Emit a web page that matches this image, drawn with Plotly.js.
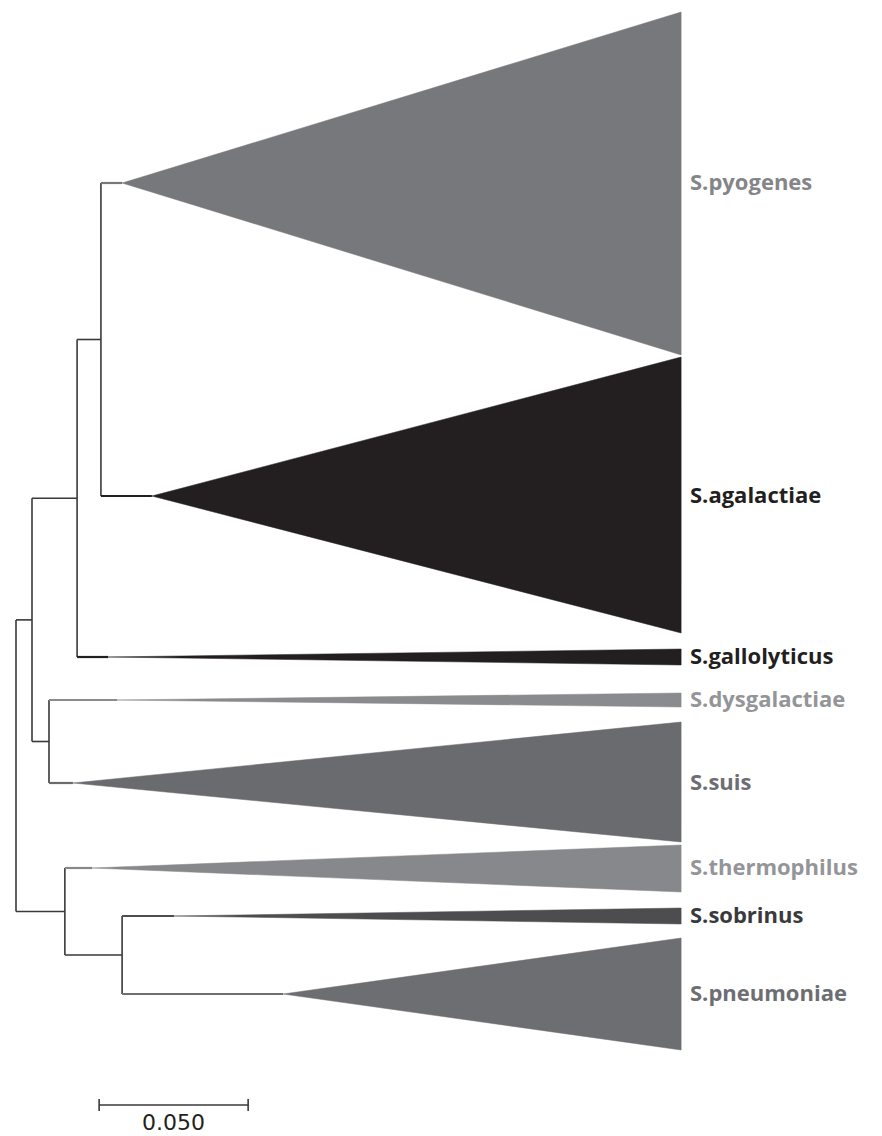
<!DOCTYPE html>
<html>
<head>
<meta charset="utf-8">
<script src="https://cdn.plot.ly/plotly-3.0.1.min.js"></script>
<style>html,body{margin:0;padding:0;background:#fff;}#chart{width:882px;height:1136px;}</style>
</head>
<body>
<div id="chart"></div>
<script>
// ---- Data (branch depths in substitutions/site from root; vertical positions in layout rows) ----
const nodeNames  = ['root', 'A', 'B', 'C', 'D', 'E', 'F'];
const nodeParent = [null, 'root', 'A', 'B', 'A', 'root', 'E'];
const nodeDepth  = [0, 0.00537, 0.0205, 0.0285, 0.01107, 0.0164, 0.0356];

const clades       = ['S.pyogenes', 'S.agalactiae', 'S.gallolyticus', 'S.dysgalactiae', 'S.suis', 'S.thermophilus', 'S.sobrinus', 'S.pneumoniae'];
const cladeParent  = ['C', 'C', 'B', 'D', 'D', 'E', 'F', 'F'];
const cladeBase    = [0.0356, 0.0456, 0.0309, 0.0339, 0.0191, 0.0255, 0.0530, 0.0896];
const cladeTipDepth = 0.2232;
const cladeRow     = [183, 496, 657, 700, 783, 868, 916, 994];
const cladeTop     = [12, 357, 649, 693, 722, 845, 908, 938];
const cladeBottom  = [355, 633, 665, 707, 842, 892, 924, 1050];
const cladeFill    = ['#77787b', '#231f20', '#231f20', '#8a8b8e', '#6a6b6e', '#87888b', '#4d4d4f', '#6d6e71'];
const labelColor   = ['#848588', '#231f20', '#231f20', '#939598', '#6d6e71', '#939598', '#3a3a3c', '#6d6e71'];

const scaleBarLength = 0.050;
const scaleBarLabel  = '0.050';

// ---- Build tree geometry ----
const depthOf = {}; nodeNames.forEach((n, i) => depthOf[n] = nodeDepth[i]);
const rowOf = {};
const childrenRows = {}; nodeNames.forEach(n => childrenRows[n] = []);
function nodeRow(n) {
  if (rowOf[n] !== undefined) return rowOf[n];
  const rows = [];
  clades.forEach((c, i) => { if (cladeParent[i] === n) rows.push(cladeRow[i]); });
  nodeNames.forEach((m, j) => { if (nodeParent[j] === n) rows.push(nodeRow(m)); });
  childrenRows[n] = rows;
  rowOf[n] = (Math.min(...rows) + Math.max(...rows)) / 2;
  return rowOf[n];
}
nodeNames.forEach(n => nodeRow(n));

const traces = [];
const lx = [], ly = [];
nodeNames.forEach((n, i) => {
  const rows = childrenRows[n];
  lx.push(depthOf[n], depthOf[n], null); ly.push(Math.min(...rows), Math.max(...rows), null);
  if (nodeParent[i]) {
    lx.push(depthOf[nodeParent[i]], depthOf[n], null); ly.push(rowOf[n], rowOf[n], null);
  }
});
traces.push({x: lx, y: ly, mode: 'lines', line: {color: '#3a383a', width: 1.6}, hoverinfo: 'skip', showlegend: false, type: 'scatter'});

clades.forEach((c, i) => {
  const p = depthOf[cladeParent[i]];
  traces.push({x: [p, cladeBase[i]], y: [cladeRow[i], cladeRow[i]], mode: 'lines',
    line: {color: cladeFill[i], width: 2.2}, hoverinfo: 'skip', showlegend: false, type: 'scatter'});
  traces.push({x: [cladeBase[i], cladeTipDepth, cladeTipDepth, cladeBase[i]],
    y: [cladeRow[i], cladeTop[i], cladeBottom[i], cladeRow[i]],
    mode: 'lines', fill: 'toself', fillcolor: cladeFill[i], line: {color: cladeFill[i], width: 0.5},
    hoverinfo: 'skip', showlegend: false, type: 'scatter'});
});

const sbX0 = 0.0279, sbRow = 1105;
traces.push({x: [sbX0, sbX0, null, sbX0, sbX0 + scaleBarLength, null, sbX0 + scaleBarLength, sbX0 + scaleBarLength],
  y: [sbRow - 6, sbRow + 6, null, sbRow, sbRow, null, sbRow - 6, sbRow + 6],
  mode: 'lines', line: {color: '#3a383a', width: 1.6}, hoverinfo: 'skip', showlegend: false, type: 'scatter'});

const annotations = clades.map((c, i) => ({
  x: cladeTipDepth + 0.0022, y: cladeRow[i], xref: 'x', yref: 'y', text: '<b>' + c + '</b>',
  showarrow: false, xanchor: 'left', yanchor: 'middle', yshift: 2,
  font: {family: 'Open Sans', size: 22, color: labelColor[i]}
}));
annotations.push({x: sbX0 + scaleBarLength / 2, y: 1122, xref: 'x', yref: 'y', text: scaleBarLabel,
  showarrow: false, xanchor: 'center', yanchor: 'middle', borderpad: 0, font: {family: 'DejaVu Sans', size: 22, color: '#231f20'}});

const pxPerUnit = 2980, rootPx = 16;
const layout = {
  width: 882, height: 1136,
  margin: {l: 0, r: 0, t: 0, b: 0},
  paper_bgcolor: '#ffffff', plot_bgcolor: '#ffffff',
  xaxis: {range: [-rootPx / pxPerUnit, (882 - rootPx) / pxPerUnit], visible: false, fixedrange: true},
  yaxis: {range: [1136, 0], visible: false, fixedrange: true},
  annotations: annotations,
  showlegend: false
};
Plotly.newPlot('chart', traces, layout, {displayModeBar: false, staticPlot: true});
</script>
</body>
</html>
